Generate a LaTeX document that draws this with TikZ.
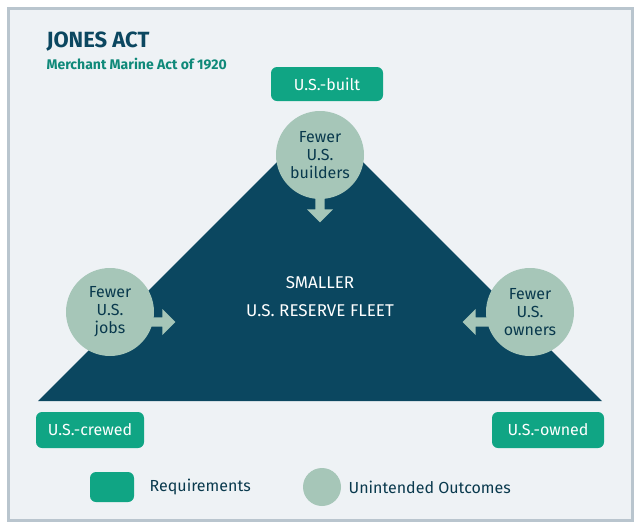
\documentclass[tikz,border=0pt]{standalone}
\usepackage{fontspec}
\setmainfont{Fira Sans}
\usetikzlibrary{shapes.arrows,positioning}
\definecolor{fleet}{HTML}{0B4760}
\definecolor{req}{HTML}{10A584}
\definecolor{outc}{HTML}{A6C6B8}
\definecolor{paper}{HTML}{EEF2F5}
\definecolor{rim}{HTML}{B9C5CE}
\begin{document}
\begin{tikzpicture}[x=1pt,y=-1pt,
    reqbox/.style={rectangle,rounded corners=6pt,fill=req,text=white,minimum height=36pt,font=\fontsize{16}{18}\selectfont},
    outcome/.style={circle,fill=outc,minimum size=88pt,inner sep=0pt,align=center,text=fleet!80!black,font=\fontsize{16}{18}\selectfont},
    pointer/.style={single arrow,fill=outc,minimum height=26pt,minimum width=26pt,single arrow head extend=4pt,inner sep=2pt}
]
    % Background
    \draw[fill=paper,draw=rim,line width=3pt] (8,8) rectangle (632,520);
    \useasboundingbox (0,0) rectangle (640,528);
    % Title
    \node[anchor=west,text=fleet,font=\bfseries\fontsize{22}{24}\selectfont] (title) at (43,42) {JONES ACT};
    \node[anchor=west,text=req!70!fleet,font=\bfseries\fontsize{14}{16}\selectfont] (subtitle) at (43,64) {Merchant Marine Act of 1920};
    % Triangle
    \coordinate (bl) at (38,401);
    \coordinate (br) at (602,401);
    \coordinate (apex) at (320,119);
    \fill[fleet] (bl) -- (apex) -- (br) -- cycle;
    \node[text=white,align=center,font=\fontsize{17}{28}\selectfont] (fleet) at (320,297) {SMALLER\\U.S. RESERVE FLEET};
    % Arrows
    \node[pointer,rotate=-90] (downarr) at (320,207) {};
    \node[pointer] (rightarr) at (160,322) {};
    \node[pointer,rotate=180] (leftarr) at (478,322) {};
    % Outcomes
    \node[outcome] (builders) at (320,155) {Fewer\\U.S.\\builders};
    \node[outcome] (jobs) at (110,312) {Fewer\\U.S.\\jobs};
    \node[outcome] (owners) at (530,312) {Fewer\\U.S.\\owners};
    % Requirements
    \node[reqbox,minimum width=112pt,minimum height=34pt] (built) at (327,84) {U.S.-built};
    \node[reqbox,minimum width=108pt] (crewed) at (90,430) {U.S.-crewed};
    \node[reqbox,minimum width=112pt] (owned) at (548,430) {U.S.-owned};
    % Legend
    \node[reqbox,minimum width=44pt,minimum height=30pt] (legreq) at (112,487) {};
    \node[right=12pt of legreq,text=fleet!80!black,font=\fontsize{16}{18}\selectfont] {Requirements};
    \node[circle,fill=outc,minimum size=38pt] (legout) at (322,487) {};
    \node[right=4pt of legout,text=fleet!80!black,font=\fontsize{16}{18}\selectfont] {Unintended Outcomes};
\end{tikzpicture}
\end{document}
